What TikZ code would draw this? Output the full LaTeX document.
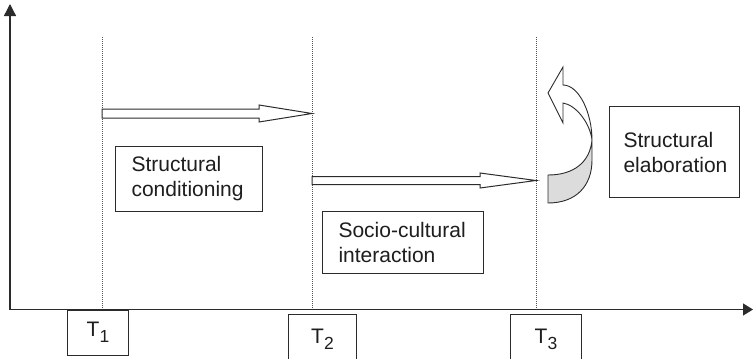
\documentclass[tikz,border=0pt]{standalone}
\usepackage{fontspec}
\setmainfont{Liberation Sans}
\usetikzlibrary{calc,arrows.meta}
\definecolor{ink}{HTML}{2B2B2B}
\definecolor{txt}{HTML}{1E1E1E}
\definecolor{shade}{HTML}{DCDCDC}
\tikzset{
  axis/.style={draw=ink, line width=1.3pt},
  guide/.style={draw=ink!80, line width=0.9pt, dash pattern=on 1pt off 1pt},
  box/.style={draw=ink, line width=1pt, fill=white, text=txt, align=left, inner sep=0pt,
     font=\fontsize{21}{25}\selectfont},
  tbox/.style={draw=ink, line width=1pt, fill=white, text=txt, inner sep=0pt,
     font=\fontsize{21}{25}\selectfont},
  harrow/.style={draw=ink, line width=1pt, fill=white, line join=miter},
  turn/.style={draw=ink, line width=0.9pt, line join=miter},
}
\newcommand{\tsub}[1]{T\raisebox{-6pt}{\fontsize{17.5}{18}\selectfont #1}}
\begin{document}
\begin{tikzpicture}[x=1pt,y=-1pt]
\useasboundingbox (0,0) rectangle (753,359);
% axes
\coordinate (O) at (10,309.5);
\coordinate (Ytop) at (10,4);
\coordinate (Xend) at (753,309.5);
% guide lines
\coordinate (g1t) at (102,37); \coordinate (g1b) at (102,309.5);
\coordinate (g2t) at (312,37); \coordinate (g2b) at (312,309.5);
\coordinate (g3t) at (536,37); \coordinate (g3b) at (536,309.5);
\draw[guide] (g1t) -- (g1b);
\draw[guide] (g2t) -- (g2b);
\draw[guide] (g3t) -- (g3b);
\draw[axis, -{Triangle[length=12pt,width=12pt]}] (O) -- (Ytop);
\draw[axis, -{Triangle[length=10pt,width=12pt]}] (O) -- (Xend);
% time boxes
\node[tbox, minimum width=61, minimum height=45, anchor=north west] (t1) at (67,309.5) {\tsub{1}};
\node[tbox, minimum width=68, minimum height=50, anchor=north west] (t2) at (288,314) {\tsub{2}};
\node[tbox, minimum width=71, minimum height=50, anchor=north west] (t3) at (510,314) {\tsub{3}};
% hollow arrows
\coordinate (a1s) at (102,113.5); \coordinate (a1e) at (312,113.5);
\draw[harrow] ($(a1s)+(0,-4.5)$) -- ($(a1e)+(-53,-4.5)$) -- ($(a1e)+(-53,-8.5)$) -- (a1e)
  -- ($(a1e)+(-53,8.5)$) -- ($(a1e)+(-53,4.5)$) -- ($(a1s)+(0,4.5)$) -- cycle;
\coordinate (a2s) at (312,180.5); \coordinate (a2e) at (536,180.5);
\draw[harrow] ($(a2s)+(0,-4)$) -- ($(a2e)+(-56,-4)$) -- ($(a2e)+(-56,-7.5)$) -- (a2e)
  -- ($(a2e)+(-56,7.5)$) -- ($(a2e)+(-56,4)$) -- ($(a2s)+(0,4)$) -- cycle;
% text boxes
\node[box, minimum width=147, minimum height=65, text width=115, anchor=north west] (sc) at (115,146)
  {Structural\\conditioning};
\node[box, minimum width=161, minimum height=62, text width=129, anchor=north west] (si) at (322,211)
  {Socio-cultural\\interaction};
\node[box, minimum width=130, minimum height=91, text width=102, anchor=north west] (se) at (609,106)
  {Structural\\elaboration};
% curved turning arrow
\coordinate (tip) at (548,93);
\coordinate (ub) at (563,67);
\coordinate (ubi) at (563,85);
\coordinate (lb) at (563,123);
\coordinate (lbi) at (563,103);
\coordinate (cx) at (592,140);
\coordinate (r2) at (592,160);
\coordinate (bo) at (548,203);
\coordinate (bi) at (548,175);
\filldraw[turn, fill=shade] (cx) -- (r2) .. controls (592,186) and (576,203) .. (bo) -- (bi)
  .. controls (574,175) and (590,162) .. (cx) -- cycle;
\filldraw[turn, fill=white] (tip) -- (ub) -- (ubi) .. controls (579,85) and (592,113) .. (cx)
  .. controls (590,123) and (576,105) .. (lbi) -- (lb) -- cycle;
\end{tikzpicture}
\end{document}
